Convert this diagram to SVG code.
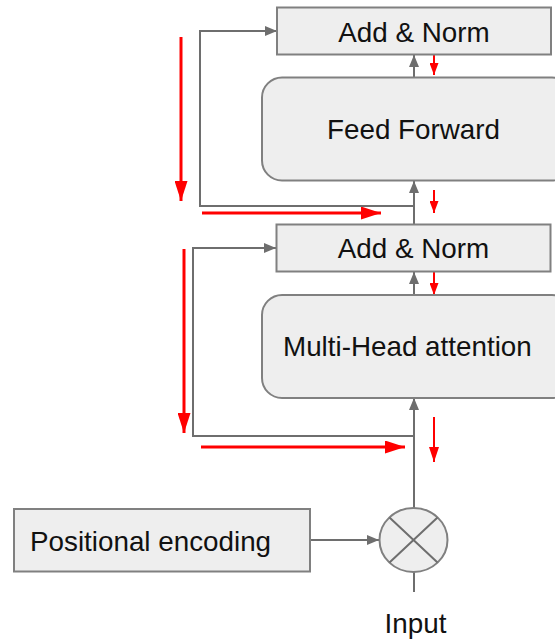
<svg xmlns="http://www.w3.org/2000/svg" width="555" height="641" viewBox="0 0 555 641">
<style>
.box{fill:#eeeeee;stroke:#808080;stroke-width:2}
.lbl{font-family:"Liberation Sans",Arial,sans-serif;font-size:27.8px;fill:#111}
.g{fill:none;stroke:#6e6e6e;stroke-width:2}
.rb{fill:none;stroke:#ff0000;stroke-width:3}
.rs{fill:none;stroke:#ff0000;stroke-width:2}
</style>
<defs>
<marker id="ga" markerUnits="userSpaceOnUse" markerWidth="12" markerHeight="10" refX="12" refY="5" orient="auto"><path d="M0,0 L12,5 L0,10 z" fill="#6e6e6e"/></marker>
<marker id="rbig" markerUnits="userSpaceOnUse" markerWidth="20" markerHeight="13" refX="20" refY="6.5" orient="auto"><path d="M0,0 L20,6.5 L0,13 z" fill="#ff0000"/></marker>
<marker id="rsm" markerUnits="userSpaceOnUse" markerWidth="12" markerHeight="9" refX="12" refY="4.5" orient="auto"><path d="M0,0 L12,4.5 L0,9 z" fill="#ff0000"/></marker>
<marker id="rmd" markerUnits="userSpaceOnUse" markerWidth="15" markerHeight="10" refX="15" refY="5" orient="auto"><path d="M0,0 L15,5 L0,10 z" fill="#ff0000"/></marker>
</defs>
<g id="connectors">
<path class="g" d="M414,508 V398" marker-end="url(#ga)"/>
<path class="g" d="M414,572 V592"/>
<path class="g" d="M414,295 V272" marker-end="url(#ga)"/>
<path class="g" d="M414,224 V181" marker-end="url(#ga)"/>
<path class="g" d="M414,77 V55" marker-end="url(#ga)"/>
<path class="g" d="M414,206 H200 V31 H277" marker-end="url(#ga)"/>
<path class="g" d="M414,436 H193 V248 H276" marker-end="url(#ga)"/>
<path class="g" d="M310,540 H379" marker-end="url(#ga)"/>
<path class="rb" d="M181,37 V201" marker-end="url(#rbig)"/>
<path class="rb" d="M202,213 H381" marker-end="url(#rbig)"/>
<path class="rb" d="M184,249 V433" marker-end="url(#rbig)"/>
<path class="rb" d="M201,447 H405" marker-end="url(#rbig)"/>
<path class="rs" d="M434,55 V75" marker-end="url(#rsm)"/>
<path class="rs" d="M434,190 V213" marker-end="url(#rsm)"/>
<path class="rs" d="M434,272 V295" marker-end="url(#rsm)"/>
<path class="rs" d="M434,417 V462" marker-end="url(#rmd)"/>
</g>
<g id="addnorm2">
<rect class="box" x="277" y="7.5" width="274" height="47"/>
<text class="lbl" x="414" y="41.5" text-anchor="middle">Add &amp; Norm</text>
</g>
<g id="feedforward">
<rect class="box" x="262" y="77.5" width="310" height="103" rx="20"/>
<text class="lbl" x="413.5" y="138.5" text-anchor="middle">Feed Forward</text>
</g>
<g id="addnorm1">
<rect class="box" x="276.5" y="224.5" width="274" height="47"/>
<text class="lbl" x="413.5" y="257.5" text-anchor="middle">Add &amp; Norm</text>
</g>
<g id="mha">
<rect class="box" x="262" y="295" width="310" height="103" rx="20"/>
<text class="lbl" x="283" y="356">Multi-Head attention</text>
</g>
<g id="posenc">
<rect class="box" x="14" y="509" width="296" height="62.5"/>
<text class="lbl" x="30" y="550.5">Positional encoding</text>
</g>
<g id="combine">
<ellipse class="box" cx="413.5" cy="540" rx="34" ry="32"/>
<path class="g" d="M389.5,517.4 L437.5,562.6 M437.5,517.4 L389.5,562.6"/>
</g>
<g id="input">
<text class="lbl" x="415.5" y="633" text-anchor="middle">Input</text>
</g>
</svg>
